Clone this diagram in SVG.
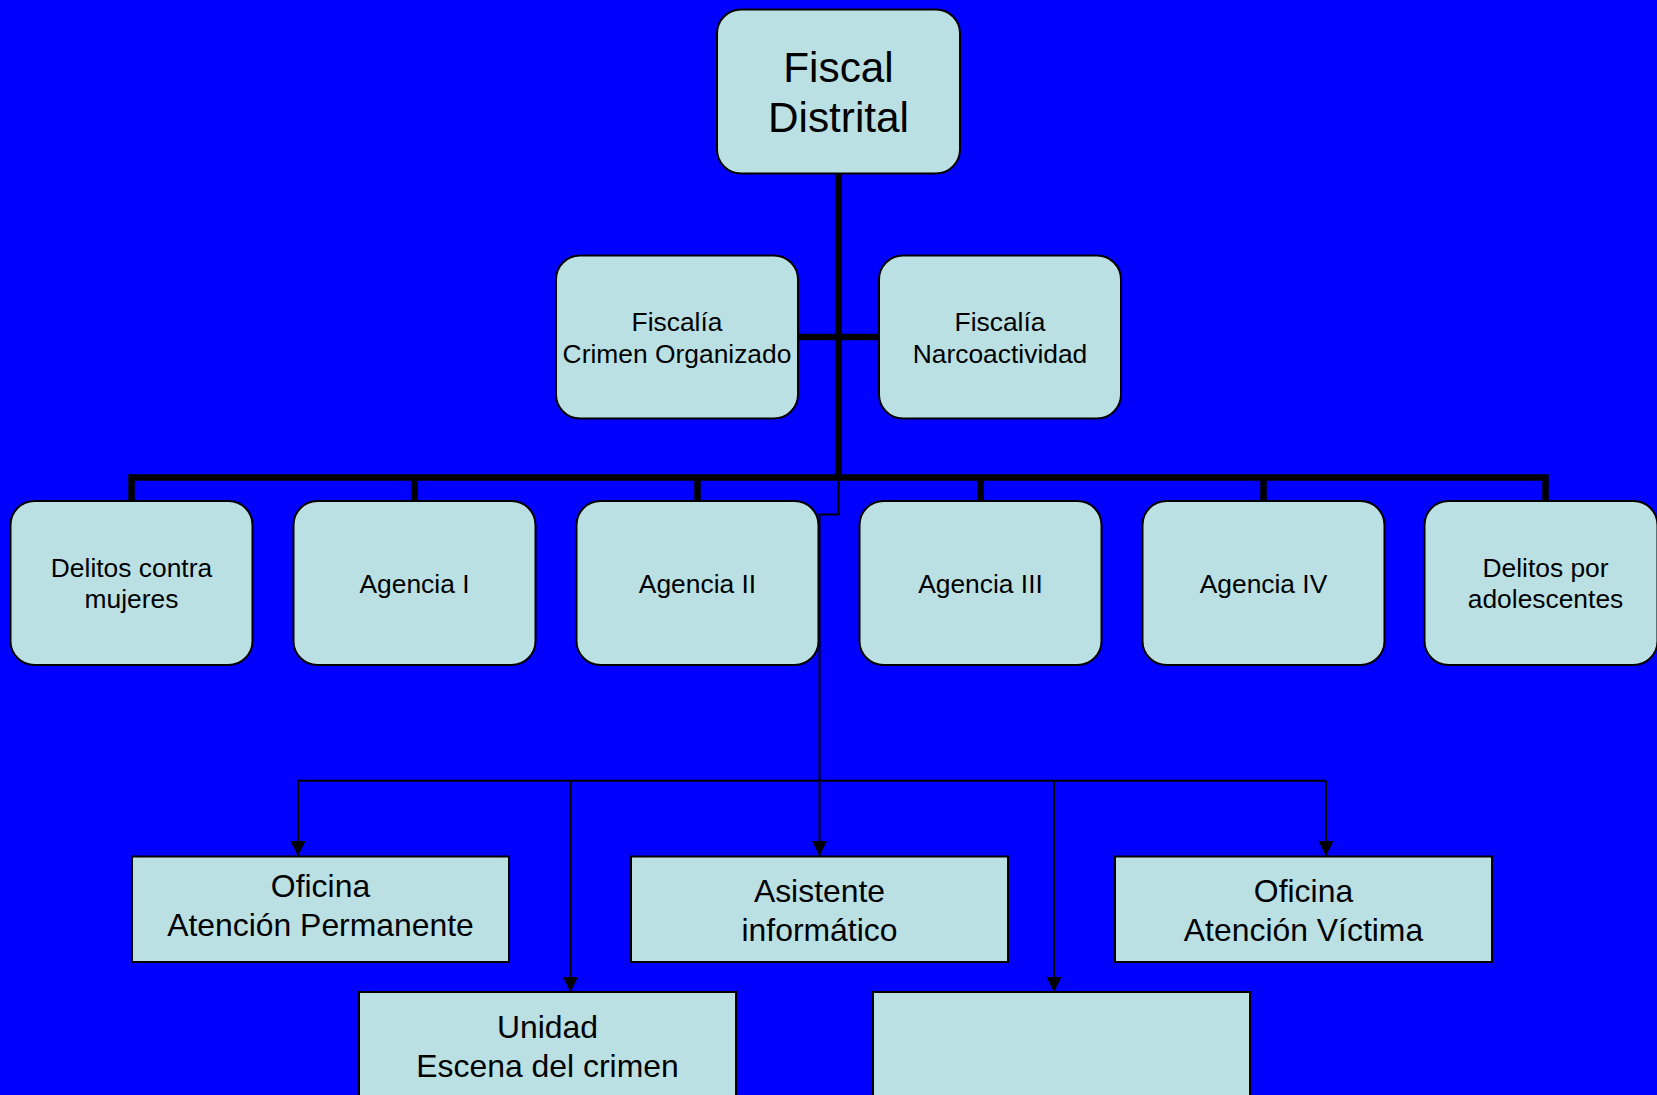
<svg xmlns="http://www.w3.org/2000/svg" width="1657" height="1095" viewBox="0 0 1657 1095">
<style>
.bg{fill:#0000FF}
.rb{fill:#BBE0E3;stroke:#000;stroke-width:2}
.sb{fill:#BBE0E3;stroke:#000;stroke-width:2}
text{font-family:"Liberation Sans",Arial,sans-serif;fill:#000;text-anchor:middle}
.t1{font-size:42.3px}
.t2{font-size:26.4px}
.t3{font-size:31.9px}
.thick{fill:none;stroke:#000;stroke-width:6.5;stroke-linejoin:miter;stroke-linecap:butt}
.thin{fill:none;stroke:#000;stroke-width:2;stroke-linejoin:miter}
</style>
<defs>
<marker id="arr" markerUnits="userSpaceOnUse" markerWidth="16" markerHeight="16" viewBox="0 0 16 16" refX="15" refY="8" orient="auto">
<path d="M0,0.5 L15,8 L0,15.5 z" fill="#000"/>
</marker>
</defs>
<rect class="bg" x="0" y="0" width="1657" height="1095"/>
<g id="connectors">
<path class="thick" d="M838.5 173 V477.5"/>
<path class="thick" d="M797 337 H879"/>
<path class="thick" d="M131.5 501 V477.5 H1545.5 V501"/>
<path class="thick" d="M414.5 477.5 V501 M697.5 477.5 V501 M980.5 477.5 V501 M1263.5 477.5 V501"/>
<path class="thin" d="M838.5 480 V514.5 H819.5 V856" marker-end="url(#arr)"/>
<path class="thin" d="M298 780.8 H1326"/>
<path class="thin" d="M298 780.8 V856" marker-end="url(#arr)"/>
<path class="thin" d="M570.5 780.8 V992" marker-end="url(#arr)"/>
<path class="thin" d="M1054 780.8 V992" marker-end="url(#arr)"/>
<path class="thin" d="M1326 780.8 V856" marker-end="url(#arr)"/>
</g>
<g id="fiscal-distrital">
<rect class="rb" x="717" y="9.5" width="243" height="164" rx="24"/>
<text class="t1" x="838.5" y="82">Fiscal</text>
<text class="t1" x="838.5" y="132">Distrital</text>
</g>
<g id="fiscalia-crimen">
<rect class="rb" x="556" y="255.5" width="242" height="163" rx="24"/>
<text class="t2" x="677" y="330.5">Fiscalía</text>
<text class="t2" x="677" y="363">Crimen Organizado</text>
</g>
<g id="fiscalia-narco">
<rect class="rb" x="879" y="255.5" width="242" height="163" rx="24"/>
<text class="t2" x="1000" y="330.5">Fiscalía</text>
<text class="t2" x="1000" y="363">Narcoactividad</text>
</g>
<g id="delitos-mujeres">
<rect class="rb" x="10.5" y="501" width="242" height="164" rx="24"/>
<text class="t2" x="131.5" y="577">Delitos contra</text>
<text class="t2" x="131.5" y="607.5">mujeres</text>
</g>
<g id="agencia-1">
<rect class="rb" x="293.5" y="501" width="242" height="164" rx="24"/>
<text class="t2" x="414.5" y="593">Agencia I</text>
</g>
<g id="agencia-2">
<rect class="rb" x="576.5" y="501" width="242" height="164" rx="24"/>
<text class="t2" x="697.5" y="593">Agencia II</text>
</g>
<g id="agencia-3">
<rect class="rb" x="859.5" y="501" width="242" height="164" rx="24"/>
<text class="t2" x="980.5" y="593">Agencia III</text>
</g>
<g id="agencia-4">
<rect class="rb" x="1142.5" y="501" width="242" height="164" rx="24"/>
<text class="t2" x="1263.5" y="593">Agencia IV</text>
</g>
<g id="delitos-adolescentes">
<rect class="rb" x="1424.5" y="501" width="233" height="164" rx="24"/>
<text class="t2" x="1545.5" y="577">Delitos por</text>
<text class="t2" x="1545.5" y="607.5">adolescentes</text>
</g>
<g id="oficina-permanente">
<rect class="sb" x="132" y="856.5" width="377" height="105.5"/>
<text class="t3" x="320.5" y="896.5">Oficina</text>
<text class="t3" x="320.5" y="936">Atención Permanente</text>
</g>
<g id="asistente-informatico">
<rect class="sb" x="631" y="856.5" width="377" height="105.5"/>
<text class="t3" x="819.5" y="902">Asistente</text>
<text class="t3" x="819.5" y="941">informático</text>
</g>
<g id="oficina-victima">
<rect class="sb" x="1115" y="856.5" width="377" height="105.5"/>
<text class="t3" x="1303.5" y="902">Oficina</text>
<text class="t3" x="1303.5" y="941">Atención Víctima</text>
</g>
<g id="unidad-escena">
<rect class="sb" x="359" y="992" width="377" height="120"/>
<text class="t3" x="547.5" y="1038">Unidad</text>
<text class="t3" x="547.5" y="1076.5">Escena del crimen</text>
</g>
<g id="empty-box">
<rect class="sb" x="873" y="992" width="377" height="120"/>
</g>
</svg>
